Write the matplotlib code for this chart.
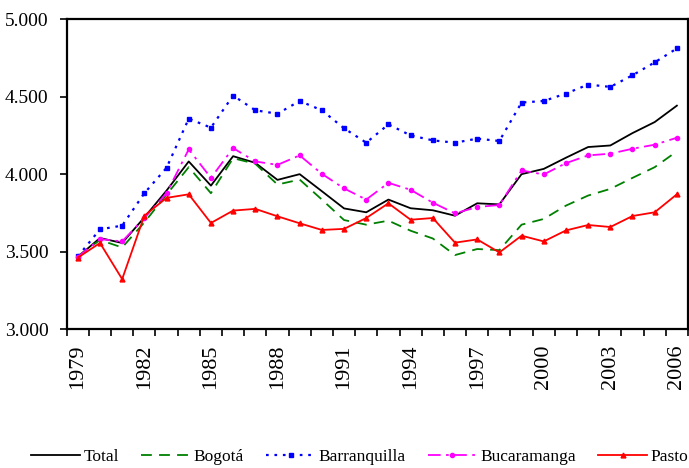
import numpy as np
import matplotlib
matplotlib.use("Agg")
import matplotlib.pyplot as plt
from matplotlib.ticker import FixedLocator, FuncFormatter, NullFormatter

years = list(range(1979, 2007))
total = [3465, 3587, 3555, 3720, 3893, 4081, 3925, 4115, 4072, 3962, 3999, 3889, 3778,
         3753, 3835, 3779, 3766, 3731, 3811, 3804, 3999, 4033, 4105, 4174, 4184, 4264, 4335, 4441]
bogota = [3470, 3574, 3526, 3688, 3867, 4044, 3876, 4102, 4066, 3932, 3964, 3835, 3703,
          3673, 3699, 3634, 3584, 3477, 3516, 3509, 3673, 3710, 3796, 3861, 3904, 3975, 4044, 4146]
barranquilla = [3468, 3643, 3667, 3876, 4040, 4357, 4299, 4506, 4411, 4389, 4471, 4411, 4295,
                4202, 4320, 4249, 4217, 4202, 4228, 4213, 4461, 4471, 4519, 4577, 4562, 4637, 4720, 4810]
bucaramanga = [3465, 3580, 3565, 3716, 3876, 4159, 3975, 4167, 4081, 4059, 4120, 4001, 3907,
               3835, 3943, 3898, 3815, 3746, 3787, 3800, 4023, 3997, 4070, 4120, 4131, 4163, 4189, 4234]
pasto = [3460, 3555, 3322, 3731, 3846, 3869, 3684, 3764, 3775, 3727, 3682, 3639, 3646,
         3716, 3811, 3705, 3716, 3557, 3578, 3494, 3602, 3565, 3636, 3671, 3658, 3729, 3753, 3869]
labels = ["Total", "Bogotá", "Barranquilla", "Bucaramanga", "Pasto"]
yticks = [3000, 3500, 4000, 4500, 5000]

plt.rcParams['font.family'] = ['Liberation Serif', 'DejaVu Serif']

fig = plt.figure(figsize=(6.89, 4.68), dpi=100)
ax = fig.add_axes([0.0968, 0.297, 0.9985 - 0.0968, 0.9594 - 0.297])

x = np.arange(len(years))
lw = 1.3
ax.plot(x, total, color='black', lw=lw, label=labels[0])
ax.plot(x, bogota, color='#008000', lw=lw, dashes=(6, 4), label=labels[1])
ax.plot(x, barranquilla, color='#0000FF', lw=lw + 0.3, dashes=(1.2, 2.6),
        marker='s', ms=2.5, label=labels[2])
ax.plot(x, bucaramanga, color='#FF00FF', lw=lw, dashes=(7, 3, 1.5, 3),
        marker='o', ms=3, label=labels[3])
ax.plot(x, pasto, color='#FF0000', lw=lw, marker='^', ms=3.5, label=labels[4])

ax.set_xlim(-0.5, len(years) - 0.5)
ax.set_ylim(3000, 5000)
ax.yaxis.set_major_locator(FixedLocator(yticks))
ax.yaxis.set_major_formatter(FuncFormatter(lambda v, p: f"{v:,.0f}".replace(",", ".")))

ax.xaxis.set_major_locator(FixedLocator(np.arange(-0.5, len(years) + 0.5, 1)))
ax.xaxis.set_major_formatter(NullFormatter())
lab_pos = list(range(0, len(years), 3))
ax.xaxis.set_minor_locator(FixedLocator(lab_pos))
ax.xaxis.set_minor_formatter(FuncFormatter(lambda v, p: str(years[int(round(v))])))
ax.tick_params(axis='x', which='major', direction='out', length=5, width=1.2)
ax.tick_params(axis='x', which='minor', length=0, pad=11, labelsize=16, labelrotation=90)
ax.tick_params(axis='y', direction='out', length=5, width=1.2, pad=8, labelsize=14)

for s in ax.spines.values():
    s.set_linewidth(1.6)

fig.legend(loc='center', bbox_to_anchor=(0.522, 1 - 457 / 468), ncol=5, frameon=False,
           fontsize=12.5, handlelength=2.8, handletextpad=0.2, columnspacing=1.3,
           borderaxespad=0, borderpad=0)

fig.savefig("out.png", dpi=100)
